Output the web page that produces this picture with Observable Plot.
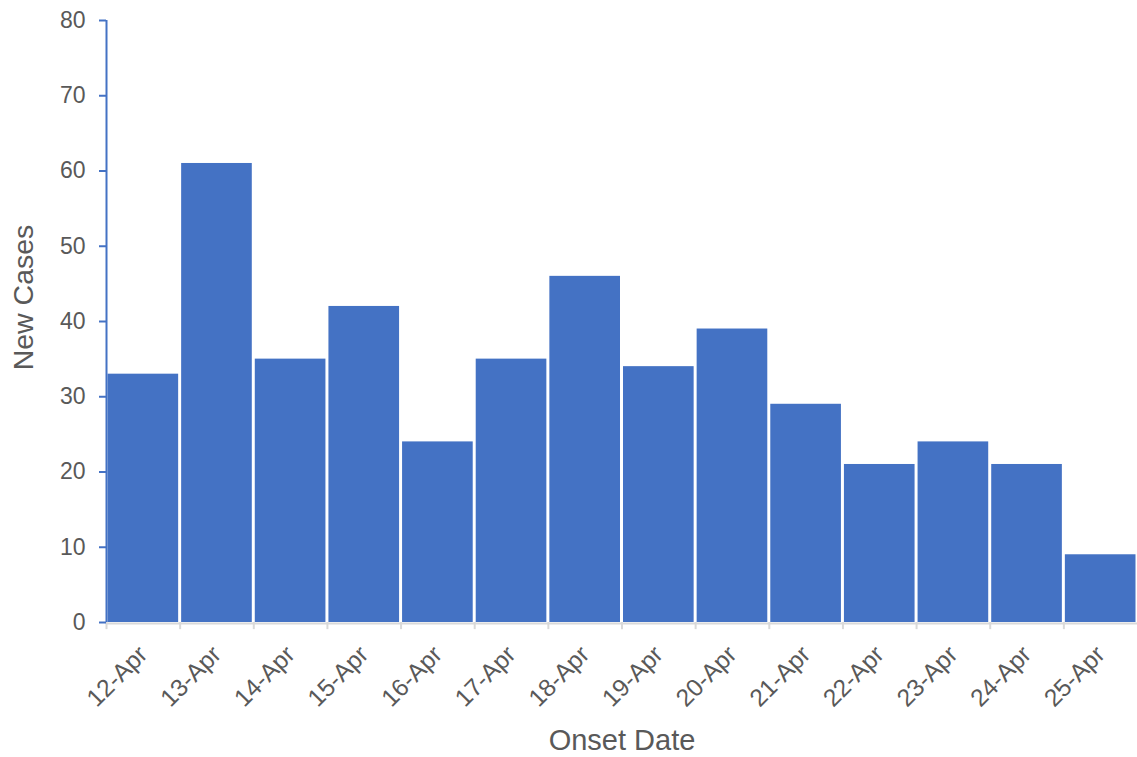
<!DOCTYPE html>
<html>
<head>
<meta charset="utf-8">
<script src="https://cdn.jsdelivr.net/npm/d3@7"></script>
<script src="https://cdn.jsdelivr.net/npm/@observablehq/plot@0.6"></script>
<style>
  html, body { margin: 0; padding: 0; background: #fff; }
  #chart svg { display: block; }
</style>
</head>
<body>
<div id="chart"></div>
<script>
const dates = ["12-Apr","13-Apr","14-Apr","15-Apr","16-Apr","17-Apr","18-Apr","19-Apr","20-Apr","21-Apr","22-Apr","23-Apr","24-Apr","25-Apr"];
const cases = [33, 61, 35, 42, 24, 35, 46, 34, 39, 29, 21, 24, 21, 9];
const yTicks = [0, 10, 20, 30, 40, 50, 60, 70, 80];

const data = dates.map((d, i) => ({date: d, cases: cases[i]}));

const W = 1137, H = 757, ML = 106, MR = 0, MT = 20, MB = 135;
const bw = (W - ML - MR) / dates.length;
const blue = "#4472C4";
const textGray = "#595959";

const chart = Plot.plot({
  width: W,
  height: H,
  marginLeft: ML,
  marginRight: MR,
  marginTop: MT,
  marginBottom: MB,
  style: {fontFamily: "'Liberation Sans', Arial, sans-serif", background: "#fff"},
  x: {type: "band", domain: dates, padding: 0, round: false},
  y: {domain: [0, 80]},
  marks: [
    Plot.barY(data, {x: "date", y: "cases", fill: blue, insetLeft: 1.5, insetRight: 1.5}),
    Plot.ruleY([0], {stroke: "#d9d9d9", strokeWidth: 2, dy: 1}),
    Plot.ruleX(dates, {x: d => d, dx: -bw / 2, y1: 0, y2: -0.95, stroke: "#d9d9d9", strokeWidth: 2}),
    Plot.ruleX([dates[0]], {x: d => d, dx: -bw / 2, y1: 0, y2: 80, stroke: blue, strokeWidth: 2}),
    Plot.axisY({ticks: yTicks, tickSize: 7, tickPadding: 14, stroke: blue, strokeWidth: 2, fill: textGray, fontSize: 23, label: null}),
    Plot.axisX({tickSize: 0, tickPadding: 28, tickRotate: -45, fill: textGray, fontSize: 24.5, label: null}),
    Plot.text(["New Cases"], {frameAnchor: "left", dx: -83, dy: -24, rotate: -90, fill: textGray, fontSize: 28.5, textAnchor: "middle"}),
    Plot.text(["Onset Date"], {frameAnchor: "bottom", dy: 127, fill: textGray, fontSize: 29, textAnchor: "middle"})
  ]
});
document.getElementById("chart").appendChild(chart);
</script>
</body>
</html>
